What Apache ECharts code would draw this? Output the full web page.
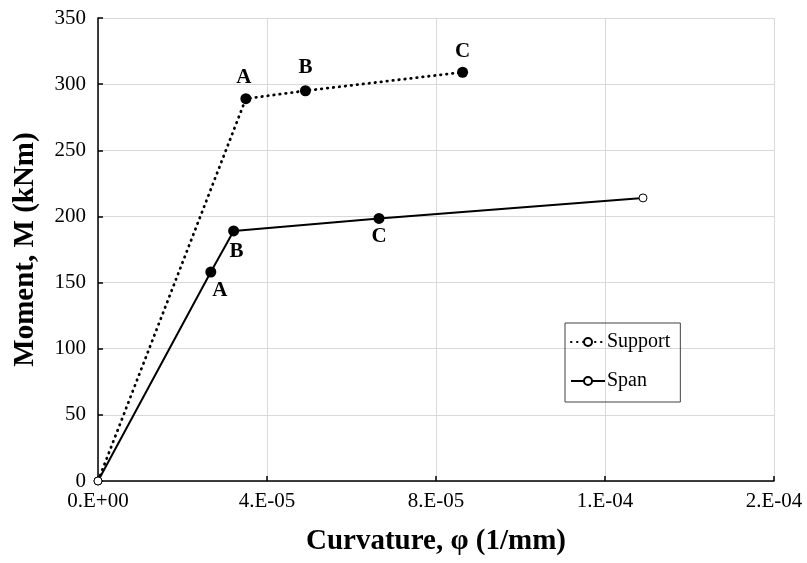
<!DOCTYPE html>
<html>
<head>
<meta charset="utf-8">
<title>Moment–Curvature</title>
<script src="https://cdn.jsdelivr.net/npm/echarts@6/dist/echarts.min.js"></script>
<style>
  html, body { margin: 0; padding: 0; background: #fff; }
  #chart { width: 807px; height: 563px; }
</style>
</head>
<body>
<div id="chart"></div>
<script>
// Curvature (1/mm) and moment (kNm) for the support section
const supportCurvature = [0, 3.50e-5, 4.91e-5, 8.63e-5];
const supportMoment = [0, 289, 295, 309];
const supportPointLabels = ['', 'A', 'B', 'C'];

// Curvature (1/mm) and moment (kNm) for the span section
const spanCurvature = [0, 2.67e-5, 3.21e-5, 6.65e-5, 1.29e-4];
const spanMoment = [0, 158, 189, 198.5, 214];
const spanPointLabels = ['', 'A', 'B', 'C', ''];

// Axis tick labels (Excel-style "0.E+00" number format)
const xTickValues = [0, 4e-5, 8e-5, 1.2e-4, 1.6e-4];
const xTickLabels = ['0.E+00', '4.E-05', '8.E-05', '1.E-04', '2.E-04'];
const yTickValues = [0, 50, 100, 150, 200, 250, 300, 350];

const FONT = '"Liberation Serif", "Times New Roman", serif';

function buildPoints(xs, ys, labels, labelPos, labelOffsets) {
  return xs.map((x, i) => {
    const named = labels[i] !== '';
    const p = { value: [x, ys[i]] };
    if (named) {
      p.symbolSize = 11;
      p.itemStyle = { color: '#000', borderColor: '#000', borderWidth: 0 };
      p.label = {
        show: true,
        formatter: labels[i],
        position: labelPos,
        offset: labelOffsets[i] || [0, 0]
      };
    }
    return p;
  });
}

const chart = echarts.init(document.getElementById('chart'), null, { renderer: 'canvas' });

const option = {
  animation: false,
  backgroundColor: '#fff',
  textStyle: { fontFamily: FONT, color: '#000' },
  grid: { left: 98, right: 33, top: 18, bottom: 82, containLabel: false },
  legend: {
    orient: 'vertical',
    left: 565,
    top: 323,
    width: 115,
    padding: [9, 10, 11, 5],
    itemGap: 19,
    itemWidth: 34,
    itemHeight: 10,
    borderColor: '#404040',
    borderWidth: 1,
    textStyle: { fontFamily: FONT, fontSize: 20, color: '#000', padding: [0, 0, 0, -3] },
    data: ['Support', 'Span']
  },
  xAxis: {
    type: 'value',
    min: 0,
    max: 1.6e-4,
    interval: 4e-5,
    name: 'Curvature, φ (1/mm)',
    nameLocation: 'middle',
    nameGap: 46,
    nameTextStyle: { fontFamily: FONT, fontSize: 29, fontWeight: 'bold', color: '#000' },
    axisLine: { show: true, lineStyle: { color: '#000', width: 1.5 } },
    axisTick: { show: true, inside: true, length: 5, lineStyle: { color: '#000', width: 1.5 } },
    axisLabel: {
      fontFamily: FONT, fontSize: 21, color: '#000', margin: 10,
      formatter: v => {
        const idx = xTickValues.findIndex(t => Math.abs(t - v) < 1e-9);
        return idx >= 0 ? xTickLabels[idx] : '';
      }
    },
    splitLine: { show: true, lineStyle: { color: '#d9d9d9', width: 1 } }
  },
  yAxis: {
    type: 'value',
    min: yTickValues[0],
    max: yTickValues[yTickValues.length - 1],
    interval: 50,
    name: 'Moment, M (kNm)',
    nameLocation: 'middle',
    nameGap: 58,
    nameRotate: 90,
    nameTextStyle: { fontFamily: FONT, fontSize: 29, fontWeight: 'bold', color: '#000' },
    axisLine: { show: true, lineStyle: { color: '#000', width: 1.5 } },
    axisTick: { show: true, inside: true, length: 5, lineStyle: { color: '#000', width: 1.5 } },
    axisLabel: { fontFamily: FONT, fontSize: 21, color: '#000', margin: 12 },
    splitLine: { show: true, lineStyle: { color: '#d9d9d9', width: 1 } }
  },
  series: [
    {
      name: 'Support',
      type: 'line',
      symbol: 'circle',
      symbolSize: 8,
      showAllSymbol: true,
      itemStyle: { color: '#fff', borderColor: '#000', borderWidth: 1 },
      lineStyle: { color: '#000', width: 2.8, type: [0.5, 5.5], cap: 'round' },
      label: {
        fontFamily: FONT, fontSize: 21, fontWeight: 'bold', color: '#000', distance: 5
      },
      emphasis: { disabled: true },
      data: buildPoints(supportCurvature, supportMoment, supportPointLabels, 'top',
        [null, [-2, 0], [0, -2], [0, 0]]),
      z: 3
    },
    {
      name: 'Span',
      type: 'line',
      symbol: 'circle',
      symbolSize: 8,
      showAllSymbol: true,
      itemStyle: { color: '#fff', borderColor: '#000', borderWidth: 1 },
      lineStyle: { color: '#000', width: 2 },
      label: {
        fontFamily: FONT, fontSize: 21, fontWeight: 'bold', color: '#000', distance: 3
      },
      emphasis: { disabled: true },
      data: buildPoints(spanCurvature, spanMoment, spanPointLabels, 'bottom',
        [null, [9, 0], [3, 2], [0, -1], null]),
      z: 3
    }
  ]
};

chart.setOption(option);
</script>
</body>
</html>
